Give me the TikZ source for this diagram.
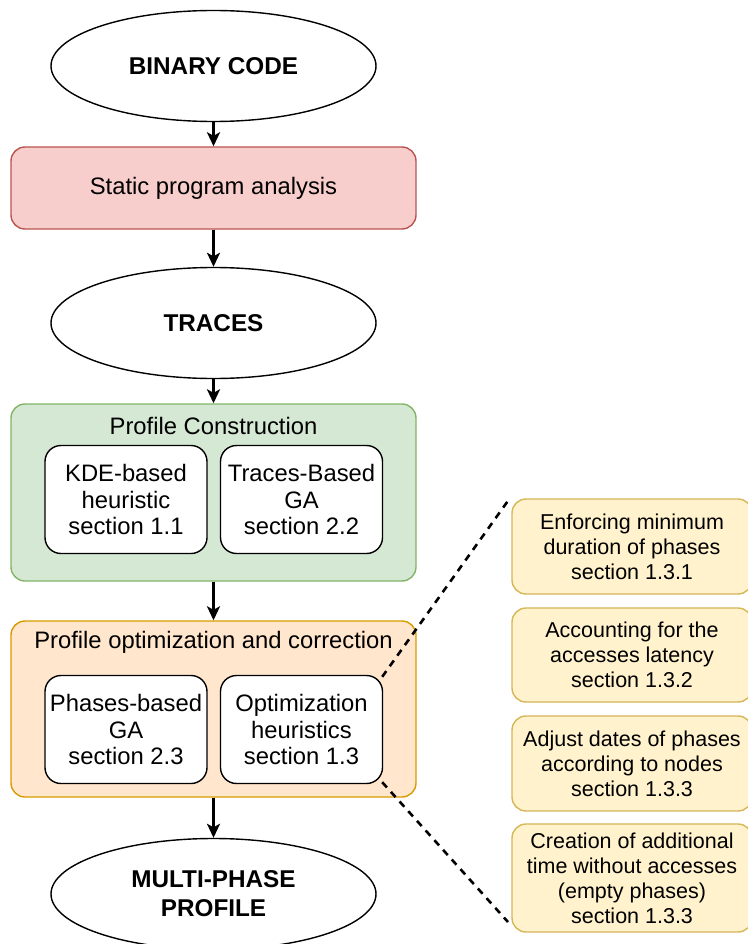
\documentclass[tikz,border=0pt]{standalone}
\usepackage{fontspec}
\setmainfont{Liberation Sans}
\usetikzlibrary{shapes.geometric,arrows.meta}
\definecolor{redfill}{HTML}{F8CECC}
\definecolor{redline}{HTML}{B85450}
\definecolor{greenfill}{HTML}{D5E8D4}
\definecolor{greenline}{HTML}{82B366}
\definecolor{orangefill}{HTML}{FFE6CC}
\definecolor{orangeline}{HTML}{D79B00}
\definecolor{yellowfill}{HTML}{FFF2CC}
\definecolor{yellowline}{HTML}{D6B656}
\tikzset{
  x=1pt, y=-1pt,
  bigfont/.style={font=\fontsize{23.8}{26.5}\selectfont},
  smallfont/.style={font=\fontsize{21.5}{25}\selectfont},
  oval/.style={ellipse, draw=black, line width=1.4pt, fill=white, minimum width=325pt, minimum height=111pt, inner sep=0pt, align=center, font=\fontsize{24.3}{29}\selectfont\bfseries},
  container/.style={rectangle, rounded corners=14pt, line width=1.4pt, minimum width=405pt, inner sep=0pt},
  inner/.style={rectangle, rounded corners=16pt, draw=black, line width=1.4pt, fill=white, minimum width=162pt, minimum height=108pt, inner sep=0pt, align=center, bigfont},
  side/.style={rectangle, rounded corners=14pt, draw=yellowline, fill=yellowfill, line width=1.4pt, minimum width=240pt, inner sep=0pt, align=center, smallfont},
  flow/.style={line width=2.6pt, -{Stealth[length=14pt,width=13pt,inset=3.5pt]}},
  zoomline/.style={line width=2.6pt, dash pattern=on 7pt off 6pt}
}
\begin{document}
\begin{tikzpicture}
\useasboundingbox (0,0) rectangle (747,944);

\node[oval] (binary) at (213.5,66) {BINARY CODE};
\node[container, draw=redline, fill=redfill, minimum height=82pt, bigfont] (static) at (213.5,188) {Static program analysis};
\node[oval] (traces) at (213.5,323) {TRACES};

\node[container, draw=greenline, fill=greenfill, minimum height=177pt] (pc) at (213.5,492.5) {};
\node[bigfont] (pctitle) at (213.5,426) {Profile Construction};
\node[inner] (kde) at (126,499.5) {KDE-based\\heuristic\\section 1.1};
\node[inner] (tga) at (301.5,499.5) {Traces-Based\\GA\\section 2.2};

\node[container, draw=orangeline, fill=orangefill, minimum height=176pt] (po) at (213.5,709) {};
\node[bigfont] (potitle) at (213.5,642) {Profile optimization and correction};
\node[inner] (pga) at (126,729.5) {Phases-based\\GA\\section 2.3};
\node[inner] (oh) at (301.5,729.5) {Optimization\\heuristics\\section 1.3};

\node[oval] (multi) at (213.5,894) {MULTI-PHASE\\PROFILE};

\node[side, minimum height=95pt] (s1) at (632,546.5) {Enforcing minimum\\duration of phases\\section 1.3.1};
\node[side, minimum height=94pt] (s2) at (632,655) {Accounting for the\\accesses latency\\section 1.3.2};
\node[side, minimum height=95pt] (s3) at (632,763.5) {Adjust dates of phases\\according to nodes\\section 1.3.3};
\node[side, minimum height=108pt] (s4) at (632,878) {Creation of additional\\time without accesses\\(empty phases)\\section 1.3.3};

\draw[flow] (binary) -- (static);
\draw[flow] (static) -- (traces);
\draw[flow] (traces) -- (pc);
\draw[flow] (pc) -- (po);
\draw[flow] (po) -- (multi);

\coordinate (zt) at (510,498);
\coordinate (zb) at (508,922);
\draw[zoomline] (oh.north east) ++(-1,2) -- (zt);
\draw[zoomline] (oh.south east) ++(-1,-2) -- (zb);
\end{tikzpicture}
\end{document}
